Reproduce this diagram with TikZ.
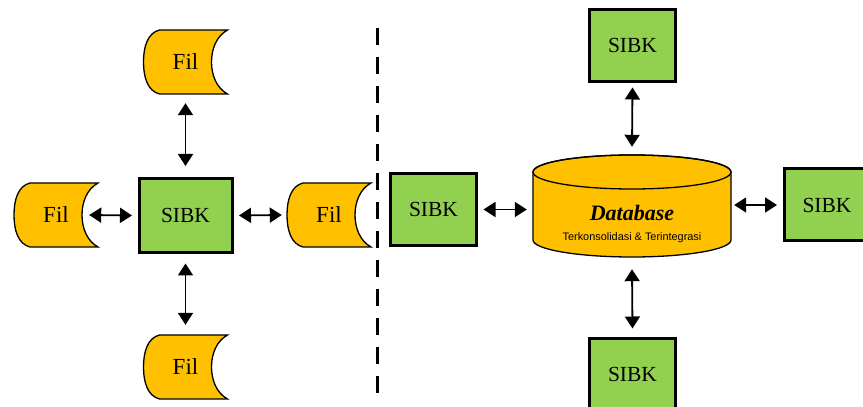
\documentclass[tikz,border=0pt]{standalone}
\usepackage{fontspec}
\setmainfont{Liberation Serif}
\newfontfamily\smallsans{Liberation Sans}
\usetikzlibrary{arrows.meta,backgrounds}
\definecolor{sibkgreen}{HTML}{92D050}
\definecolor{filorange}{HTML}{FFC000}
\newcommand{\drawfil}[1]{%
  \begin{scope}[on background layer, shift={(#1.center)}]
    \draw[filshape] (-26,32) -- (42,32) .. controls (31,26) and (26,13) .. (26,0)
      .. controls (26,-13) and (31,-26) .. (42,-32) -- (-26,-32)
      .. controls (-38,-29) and (-42,-15) .. (-42,0)
      .. controls (-42,15) and (-38,29) .. (-26,32) -- cycle;
  \end{scope}}
\begin{document}
\begin{tikzpicture}[x=1pt,y=1pt,
  sibk/.style={draw=black, line width=3pt, fill=sibkgreen, minimum width=86pt,
    minimum height=72pt, inner sep=0pt, font=\fontsize{21.5}{24}\selectfont},
  fil/.style={minimum width=84pt, minimum height=64pt, inner sep=0pt,
    font=\fontsize{23}{26}\selectfont},
  filshape/.style={draw=black, line width=1.3pt, fill=filorange},
  dar/.style={line width=1.8pt,
    {Triangle[length=12pt,width=15pt]}-{Triangle[length=12pt,width=15pt]}},
  divider/.style={line width=3pt, dash pattern=on 17pt off 12pt}
]
\useasboundingbox (0,0) rectangle (863,407);

% left part
\node[sibk, minimum width=93pt, minimum height=74pt] (c) at (185.5,191.5) {SIBK};
\node[fil] (ft) at (185.5,345) {Fil};
\node[fil] (fl) at (56,192) {Fil};
\node[fil] (fr) at (329,192) {Fil};
\node[fil] (fb) at (185.5,40) {Fil};
\drawfil{ft}
\drawfil{fl}
\drawfil{fr}
\drawfil{fb}

\draw[dar] ([yshift=11]c.north) -- ([yshift=-9]ft.south);
\draw[dar] ([yshift=-9.5]c.south) -- ([yshift=10]fb.north);
\draw[dar] ([xshift=-5.5]c.west) -- ([xshift=-9]fl.east);
\draw[dar] ([xshift=5.5]c.east) -- ([xshift=-5]fr.west);

% divider
\coordinate (dtop) at (377,379);
\coordinate (dbot) at (377,9);
\draw[divider] (dtop) -- (dbot);

% right part
\node[minimum width=198pt, minimum height=102pt, inner sep=0pt] (db) at (632,201) {};
\begin{scope}[on background layer]
  \draw[line width=1.3pt, fill=filorange] (533,235) -- (533,167)
    arc[start angle=180, end angle=360, x radius=99, y radius=17] -- (731,235)
    arc[start angle=0, end angle=180, x radius=99, y radius=17] -- cycle;
  \draw[line width=1.3pt] (632,235) ellipse [x radius=99, y radius=17];
\end{scope}
\node[font=\fontsize{22}{26}\selectfont\bfseries\itshape] (dbt) at (632,194) {Database};
\node[font=\smallsans\fontsize{10.9}{12}\selectfont] (dbs) at (632,169) {Terkonsolidasi \& Terintegrasi};

\node[sibk] (sl) at (433.5,197.5) {SIBK};
\node[sibk] (st) at (632.5,361.5) {SIBK};
\node[sibk] (sr) at (827,202) {SIBK};
\node[sibk] (sb) at (632.5,32.5) {SIBK};

\draw[dar] ([xshift=5.5]sl.east) -- ([xshift=-6]db.west |- sl.east);
\draw[dar] ([xshift=3]db.east |- sr.west) -- ([xshift=-5.5]sr.west);
\draw[dar] ([yshift=-4.5]st.south) -- ([yshift=8]db.north);
\draw[dar] ([yshift=-12]db.south) -- ([yshift=8.5]sb.north);
\end{tikzpicture}
\end{document}
